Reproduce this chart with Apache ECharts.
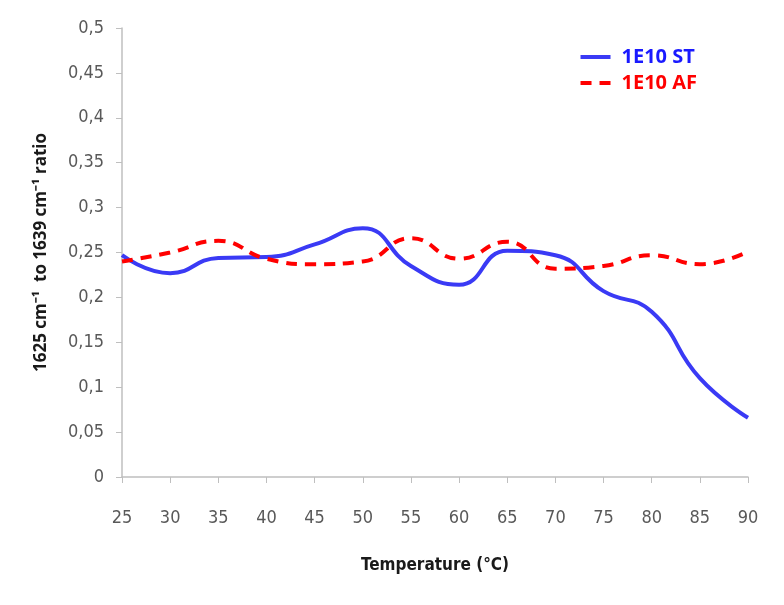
<!DOCTYPE html>
<html><head><meta charset="utf-8">
<script src="https://cdn.jsdelivr.net/npm/echarts@6/dist/echarts.min.js"></script>
<style>html,body{margin:0;padding:0;background:#fff}#c{width:784px;height:605px}</style>
</head><body><div id="c"></div>
<script>
const temperatures = ['25','30','35','40','45','50','55','60','65','70','75','80','85','90'];
const st = [0.247,0.227,0.244,0.245,0.259,0.277,0.235,0.214,0.252,0.247,0.207,0.184,0.11,0.066];
const af = [0.240,0.250,0.263,0.243,0.237,0.240,0.266,0.243,0.262,0.232,0.235,0.247,0.237,0.251];
const seriesNames = ['1E10 ST','1E10 AF'];
const fontFam = '"Liberation Sans Narrow","DejaVu Sans Condensed",sans-serif';
const chart = echarts.init(document.getElementById('c'));
chart.setOption({
  animation:false,
  backgroundColor:'#fff',
  grid:{left:122,right:36,top:28,bottom:128},
  legend:{
    right:82, top:42, orient:'vertical', itemGap:6, itemWidth:30, itemHeight:14,
    itemStyle:{opacity:0},
    lineStyle:{width:4},
    data:seriesNames.map((n,i)=>({name:n,textStyle:{color:i?'#ff0000':'#1a1aff'}})),
    textStyle:{fontSize:20,fontWeight:'bold',fontFamily:'"Open Sans",sans-serif',padding:[0,0,0,6]}
  },
  xAxis:{
    type:'category', data:temperatures, boundaryGap:false,
    name:'Temperature (°C)', nameLocation:'middle', nameGap:80,
    nameTextStyle:{fontSize:17,fontWeight:'bold',color:'#1a1a1a',fontFamily:fontFam},
    axisLine:{lineStyle:{color:'#bfbfbf',width:1.5}},
    axisTick:{alignWithLabel:true,length:6,lineStyle:{color:'#bfbfbf'}},
    axisLabel:{fontSize:18,color:'#595959',margin:32,fontFamily:fontFam}
  },
  yAxis:{
    type:'value', min:0, max:0.5, interval:0.05,
    name:'1625 cm⁻¹  to 1639 cm⁻¹ ratio', nameLocation:'middle', nameGap:72, nameRotate:90,
    nameTextStyle:{fontSize:17,fontWeight:'bold',color:'#1a1a1a',fontFamily:'"Open Sans",sans-serif'},
    axisLine:{show:true,lineStyle:{color:'#bfbfbf',width:1.5}},
    axisTick:{show:true,length:6,lineStyle:{color:'#bfbfbf'}},
    splitLine:{show:false},
    axisLabel:{fontSize:18,color:'#595959',margin:18,fontFamily:fontFam,
      formatter:v=>String(Math.round(v*100)/100).replace('.',',')}
  },
  series:[
    {name:seriesNames[0],type:'line',data:st,smooth:0.5,symbol:'none',
     lineStyle:{color:'#3a3af5',width:4},itemStyle:{color:'#1a1aff'}},
    {name:seriesNames[1],type:'line',data:af,smooth:0.5,symbol:'none',
     lineStyle:{color:'#ff0000',width:4,type:[11,8]},itemStyle:{color:'#ff0000'}}
  ]
});
</script></body></html>
